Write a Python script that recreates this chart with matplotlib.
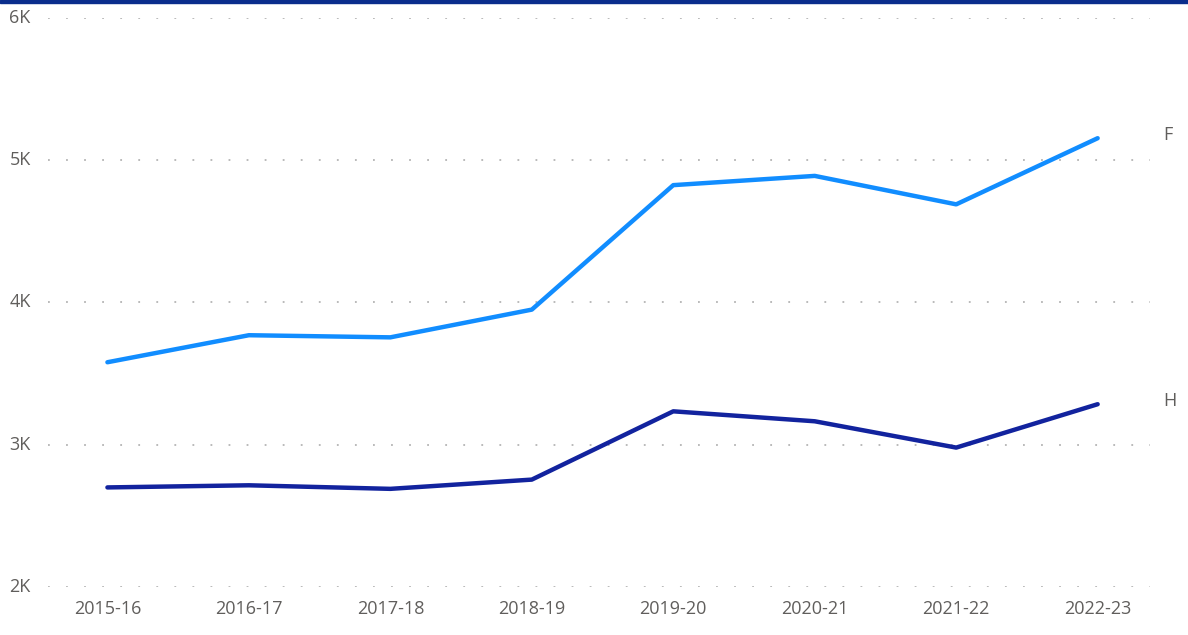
import matplotlib
matplotlib.use('Agg')
import matplotlib.pyplot as plt
from matplotlib.patches import Rectangle

years = ['2015-16', '2016-17', '2017-18', '2018-19', '2019-20', '2020-21', '2021-22', '2022-23']
f_vals = [3580, 3770, 3755, 3950, 4825, 4890, 4690, 5155]
h_vals = [2700, 2715, 2690, 2755, 3235, 3165, 2980, 3285]
y_ticks = [2000, 3000, 4000, 5000, 6000]
y_labels = ['2K', '3K', '4K', '5K', '6K']

plt.rcParams['font.family'] = ['Open Sans', 'DejaVu Sans']
txt_col = '#605E5C'
fs = 13

fig = plt.figure(figsize=(11.88, 6.35), dpi=100)
ax = fig.add_axes([48/1188, 1 - 587/635, (1150 - 48)/1188, (587 - 18)/635])

x = list(range(len(years)))
ax.plot(x, f_vals, color='#118DFF', linewidth=3.2, solid_capstyle='round', zorder=3)
ax.plot(x, h_vals, color='#12239E', linewidth=3.2, solid_capstyle='round', zorder=3)

ax.set_xlim(-0.42, 7.37)
ax.set_ylim(2000, 6000)
ax.set_yticks(y_ticks)
ax.set_yticklabels([])
ax.set_xticks(x)
ax.set_xticklabels(years)
ax.grid(axis='y', color='#b4b4b4', linestyle=(0, (1, 9)), linewidth=1.3)
ax.tick_params(length=0, labelsize=fs, labelcolor=txt_col)
ax.tick_params(axis='x', pad=9)
for s in ax.spines.values():
    s.set_visible(False)

# y labels, left-aligned near the figure edge
for v, lab in zip(y_ticks, y_labels):
    ax.text(-0.035, v, lab, transform=ax.get_yaxis_transform(), ha='left', va='center',
            fontsize=fs, color=txt_col, clip_on=False)

# series labels at end of lines
ax.annotate('F', xy=(7, f_vals[-1]), xytext=(47, 2), textcoords='offset points',
            color=txt_col, fontsize=fs, ha='left', va='center', annotation_clip=False)
ax.annotate('H', xy=(7, h_vals[-1]), xytext=(47, 2), textcoords='offset points',
            color=txt_col, fontsize=fs, ha='left', va='center', annotation_clip=False)

# top bar
fig.patches.append(Rectangle((0, 1 - 3/635), 1, 3/635, transform=fig.transFigure,
                             color='#0A2D8C', zorder=5))

fig.savefig('out.png', dpi=100)
